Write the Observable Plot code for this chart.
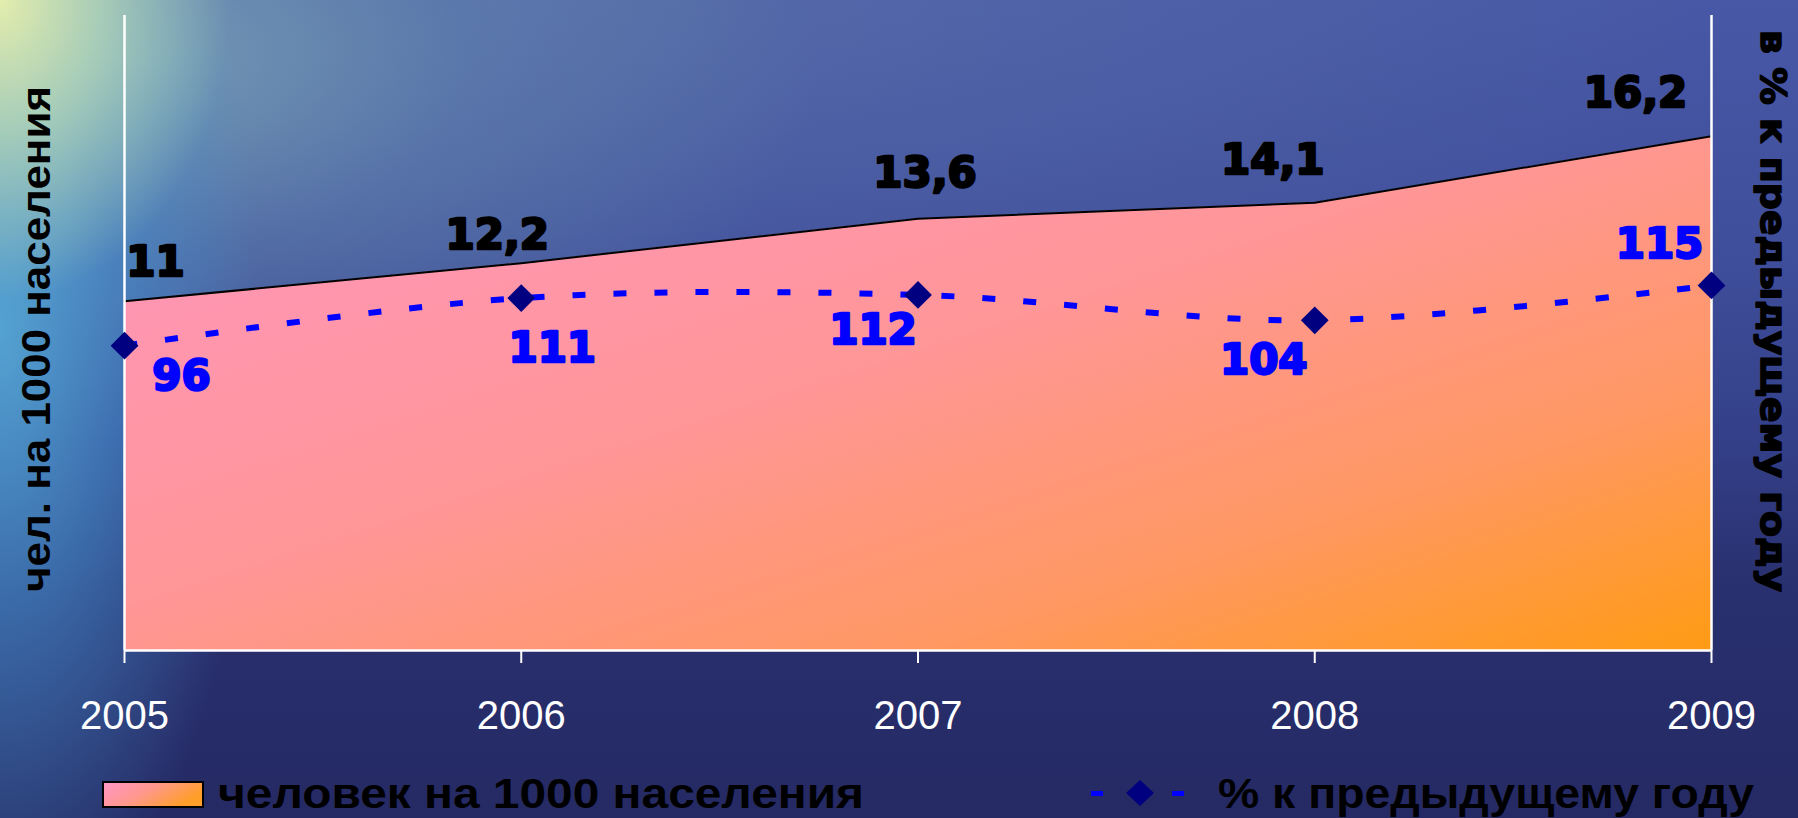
<!DOCTYPE html>
<html lang="ru">
<head>
<meta charset="utf-8">
<script src="https://cdn.jsdelivr.net/npm/d3@7"></script>
<script src="https://cdn.jsdelivr.net/npm/@observablehq/plot@0.6"></script>
<style>
  html, body { margin: 0; padding: 0; }
  body {
    width: 1798px; height: 818px; overflow: hidden; position: relative;
    background:
      radial-gradient(ellipse 230px 300px at 0px 0px, rgba(235,242,172,0.95) 0%, rgba(190,222,182,0.75) 45%, rgba(140,195,195,0) 100%),
      radial-gradient(ellipse 260px 620px at 0px 330px, rgba(85,170,215,0.9) 0%, rgba(70,145,205,0.6) 45%, rgba(60,110,180,0) 100%),
      radial-gradient(ellipse 700px 380px at 120px 60px, rgba(130,175,185,0.75) 0%, rgba(100,140,175,0.45) 50%, rgba(90,120,170,0) 100%),
      radial-gradient(ellipse 1100px 380px at 600px 0px, rgba(95,120,170,0.55), rgba(80,100,165,0) 100%),
      linear-gradient(180deg, #4858a6 0%, #404f9c 30%, #34418a 52%, #29306f 72%, #252a64 100%);
    font-family: "Liberation Sans", Arial, sans-serif;
  }
  #chart { position: absolute; left: 0; top: 0; }
  #legend { position: absolute; left: 0; top: 760px; }
</style>
</head>
<body>
<svg width="0" height="0" style="position:absolute">
  <defs>
    <linearGradient id="areaGrad" x1="0" y1="0" x2="1" y2="1">
      <stop offset="0" stop-color="rgb(255,150,192)"/>
      <stop offset="0.45" stop-color="rgb(255,150,152)"/>
      <stop offset="0.75" stop-color="rgb(255,152,98)"/>
      <stop offset="1" stop-color="rgb(255,155,20)"/>
    </linearGradient>
    <linearGradient id="legGrad" x1="0" y1="0" x2="1" y2="0.4">
      <stop offset="0" stop-color="rgb(255,150,200)"/>
      <stop offset="0.5" stop-color="rgb(255,152,140)"/>
      <stop offset="1" stop-color="rgb(255,158,40)"/>
    </linearGradient>
  </defs>
</svg>
<div id="chart"></div>
<svg id="legend" width="1798" height="58">
  <rect x="103" y="22" width="100" height="25" fill="url(#legGrad)" stroke="#000" stroke-width="2"/>
  <text x="218" y="48" font-family="Liberation Sans, Arial, sans-serif" font-weight="bold" font-size="43" fill="#000" textLength="646" lengthAdjust="spacingAndGlyphs">человек на 1000 населения</text>
  <rect x="1091" y="31" width="12" height="5" fill="#0000ff"/>
  <rect x="1172" y="31" width="12" height="5" fill="#0000ff"/>
  <path d="M1140,20 L1154,33 L1140,46 L1126,33 Z" fill="#000080"/>
  <text x="1218" y="48" font-family="Liberation Sans, Arial, sans-serif" font-weight="bold" font-size="43" fill="#000" textLength="536" lengthAdjust="spacingAndGlyphs">% к предыдущему году</text>
</svg>
<script>
// ---- data ----
const years = [2005, 2006, 2007, 2008, 2009];
const yearTickLabels = ["2005", "2006", "2007", "2008", "2009"];
const perThousand = [11, 12.2, 13.6, 14.1, 16.2];
const perThousandLabels = ["11", "12,2", "13,6", "14,1", "16,2"];
const pctPrevYear = [96, 111, 112, 104, 115];
const pctPrevYearLabels = ["96", "111", "112", "104", "115"];
const leftAxisTitle = "чел. на 1000 населения";
const rightAxisTitle = "в % к предыдущему году";

// ---- label nudges (styling, px) ----
const rateNudge = [[31, -39], [-24, -28], [7, -45], [-42, -42], [-76, -43]];
const pctNudge = [[57, 31], [31, 50], [-45, 36], [-51, 40], [-52, -41]];

const rows = years.map((year, i) => ({
  year,
  rate: perThousand[i],
  rateLabel: perThousandLabels[i],
  pct: pctPrevYear[i],
  pctLabel: pctPrevYearLabels[i]
}));

// right axis domain [0, 200] maps onto left axis domain [0, 20]
const pctToY = d => d.pct / 10;

function fitLength(len) {
  return (index, scales, values, dims, context, next) => {
    const g = next(index, scales, values, dims, context);
    g.querySelectorAll("text").forEach(t => {
      t.setAttribute("textLength", len);
      t.setAttribute("lengthAdjust", "spacingAndGlyphs");
    });
    return g;
  };
}

const labelFont = "DejaVu Sans, Liberation Sans, sans-serif";

const chart = Plot.plot({
  width: 1798,
  height: 760,
  marginLeft: 124,
  marginRight: 87,
  marginTop: 15,
  marginBottom: 110,
  style: { background: "transparent", overflow: "visible" },
  x: { type: "linear", domain: [2005, 2009], axis: null },
  y: { domain: [0, 20], axis: null },
  marks: [
    Plot.areaY(rows, { x: "year", y: "rate", fill: "url(#areaGrad)" }),
    Plot.lineY(rows, { x: "year", y: "rate", stroke: "#000", strokeWidth: 2 }),
    Plot.ruleY([0], { stroke: "white", strokeWidth: 2.5 }),
    Plot.ruleX([2005, 2009], { stroke: "white", strokeWidth: 2.5 }),
    Plot.axisX({
      ticks: years,
      tickFormat: d => yearTickLabels[years.indexOf(d)],
      color: "white",
      tickSize: 13,
      tickPadding: 37,
      fontSize: 40,
      fontFamily: "Liberation Sans, Arial, sans-serif",
      strokeWidth: 2,
      label: null
    }),
    Plot.line(rows, {
      x: "year", y: pctToY, curve: "catmull-rom",
      stroke: "#0000ff", strokeWidth: 6, strokeDasharray: "13,28", strokeLinecap: "butt"
    }),
    Plot.dot(rows, { x: "year", y: pctToY, symbol: "diamond2", r: 12.5, fill: "#000080", stroke: "none" }),
    ...rows.map((d, i) => Plot.text([d], {
      x: "year", y: "rate", text: "rateLabel",
      dx: rateNudge[i][0], dy: rateNudge[i][1],
      fill: "#000", stroke: "#000", strokeWidth: 2.5,
      fontSize: 42, fontWeight: "bold", fontFamily: labelFont
    })),
    ...rows.map((d, i) => Plot.text([d], {
      x: "year", y: pctToY, text: "pctLabel",
      dx: pctNudge[i][0], dy: pctNudge[i][1],
      fill: "#0000ff", stroke: "#0000ff", strokeWidth: 2.5,
      fontSize: 42, fontWeight: "bold", fontFamily: labelFont
    })),
    Plot.text([leftAxisTitle], {
      frameAnchor: "left", textAnchor: "middle", rotate: -90, dx: -87, dy: 6,
      fill: "#000", fontSize: 40, fontWeight: "bold",
      fontFamily: "Liberation Sans, Arial, sans-serif",
      render: fitLength(506)
    }),
    Plot.text([rightAxisTitle], {
      frameAnchor: "right", textAnchor: "middle", rotate: 90, dx: 61, dy: -22,
      fill: "#000", stroke: "#000", strokeWidth: 1.5, fontSize: 35, fontWeight: "bold",
      fontFamily: labelFont,
      render: fitLength(562)
    })
  ]
});
document.getElementById("chart").appendChild(chart);
</script>
</body>
</html>
